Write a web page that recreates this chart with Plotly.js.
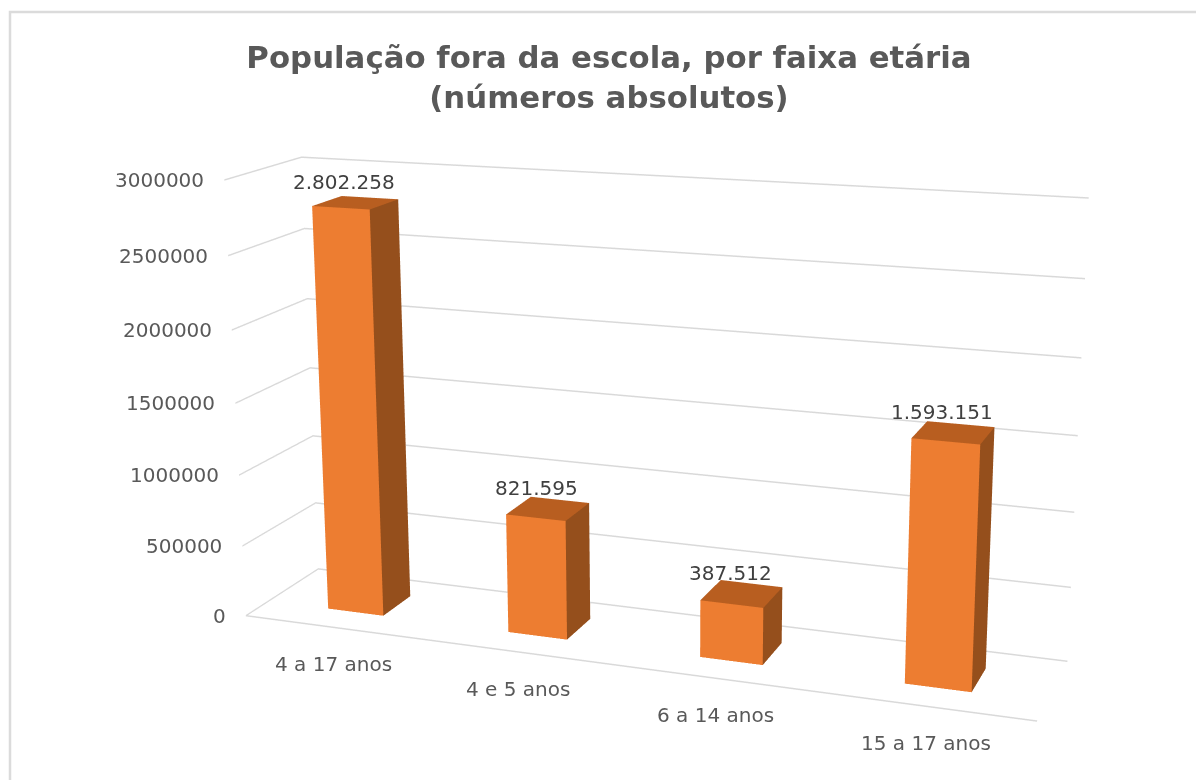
<!DOCTYPE html>
<html><head><meta charset="utf-8">
<script src="https://cdn.plot.ly/plotly-3.0.1.min.js"></script>
<style>html,body{margin:0;padding:0;background:#fff;overflow:hidden;width:1196px;height:780px}#wrap{position:absolute;left:0;top:0;width:1196px;height:780px;overflow:hidden}#chart{position:absolute}</style></head>
<body><div id="wrap"><div id="chart"></div></div>
<script>
const categories = ["4 a 17 anos","4 e 5 anos","6 a 14 anos","15 a 17 anos"];
const values = [2802258,821595,387512,1593151];
const valueLabels = ["2.802.258","821.595","387.512","1.593.151"];
const zTicks = [0,500000,1000000,1500000,2000000,2500000,3000000];
const colFront="#ED7D31", colSide="#954F1C", colTop="#B85E20";
// The plot is wider than the window so the fixed 3D field of view gives the reference's flat perspective.
const W=2880,H=1880,L=-(W-1196)/2,T=-(H-780)/2;
const el=document.getElementById('chart');el.style.cssText=`left:${L}px;top:${T}px;width:${W}px;height:${H}px`;
const px=x=>(x-L)/W, py=y=>1-(y-T)/H;
const hw=0.0391*4, y0=0.3031, y1=0.7052;
const traces=[];
values.forEach((v,i)=>{
  const a=i-hw,b=i+hw;
  const x=[a,b,b,a,a,b,b,a], y=[y0,y0,y1,y1,y0,y0,y1,y1], z=[0,0,0,0,v,v,v,v];
  traces.push({type:'mesh3d',x,y,z,
    i:[0,0,1,1,4,4],j:[1,5,2,6,5,6],k:[5,4,6,5,6,7],
    facecolor:[colFront,colFront,colSide,colSide,colTop,colTop],
    flatshading:true,lighting:{ambient:1,diffuse:0,specular:0,roughness:1,fresnel:0},hoverinfo:'skip',showscale:false});
});
const lab={family:'DejaVu Sans',size:20,color:'#595959'};
const annots=[
 ...values.map((v,i)=>({x:i,y:0.5,z:v,text:valueLabels[i],showarrow:false,xshift:-11,yshift:21,font:{family:'DejaVu Sans',size:20,color:'#404040'}})),
 ...zTicks.map(t=>({x:-0.5,y:0,z:t,text:String(t),showarrow:false,xanchor:'right',xshift:-18,font:lab})),
 ...categories.map((c,i)=>({x:i,y:0,z:0,text:c,showarrow:false,xshift:-0.5,yshift:-37,font:lab}))
];
const layout={width:W,height:H,margin:{l:0,r:0,t:0,b:0},paper_bgcolor:'#fff',showlegend:false,
 title:{text:"População fora da escola, por faixa etária<br>(números absolutos)",font:{family:"DejaVu Sans",size:30.8,color:"#595959",weight:'bold'},x:px(609),y:py(67.5),xanchor:'center',yanchor:'top'},
 shapes:[{type:'rect',xref:'paper',yref:'paper',x0:px(10),x1:px(1300),y0:py(900),y1:py(12),line:{color:'#DBDBDB',width:2.5}}],
 scene:{domain:{x:[0,1],y:[0,1]},aspectmode:'manual',aspectratio:{x:2.2,y:0.4267,z:1.2225},
  camera:{eye:{x:1.9807,y:-5.4139,z:1.5549},center:{x:-0.1982,y:0.1853,z:0.0170},up:{x:-0.0191,y:0.0722,z:1},projection:{type:'perspective'}},
  xaxis:{title:{text:''},type:'linear',range:[-0.5,3.5],showticklabels:false,showgrid:false,zeroline:false,showline:true,linewidth:3,linecolor:'#D9D9D9',showbackground:false,ticks:'',showspikes:false},
  yaxis:{title:{text:''},range:[0,1],showticklabels:false,showgrid:false,zeroline:false,showline:false,showbackground:false,ticks:'',showspikes:false},
  zaxis:{title:{text:''},range:[0,3000000],tickvals:zTicks,showticklabels:false,showgrid:true,gridwidth:3,gridcolor:'#D9D9D9',zeroline:false,showline:false,showbackground:false,ticks:'',showspikes:false},
  annotations:annots
 }};
Plotly.newPlot('chart',traces,layout,{displayModeBar:false});
</script></body></html>
